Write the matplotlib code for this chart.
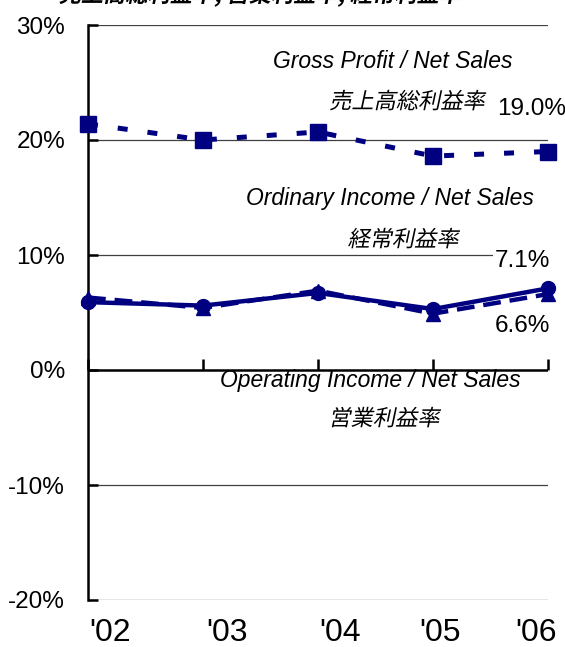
import matplotlib
matplotlib.use("Agg")
import matplotlib.pyplot as plt
from matplotlib.patheffects import AbstractPathEffect
from matplotlib.transforms import Affine2D, ScaledTranslation

plt.rcParams['font.family'] = ['Liberation Sans', 'Noto Sans CJK JP', 'DejaVu Sans']

years = ["'02", "'03", "'04", "'05", "'06"]
gross_profit = [21.4, 20.0, 20.7, 18.6, 19.0]
ordinary_income = [5.9, 5.6, 6.7, 5.3, 7.1]
operating_income = [6.3, 5.4, 6.9, 4.9, 6.6]
y_ticks = [-20, -10, 0, 10, 20, 30]
y_tick_labels = ["-20%", "-10%", "0%", "10%", "20%", "30%"]


class Slant(AbstractPathEffect):
    """Draw text paths with an oblique shear (faux italic for CJK)."""
    def __init__(self, deg=12):
        super().__init__()
        self.deg = deg

    def draw_path(self, renderer, gc, tpath, affine, rgbFace=None):
        renderer.draw_path(gc, tpath, Affine2D().skew_deg(self.deg, 0) + affine, rgbFace)


navy = "#000080"
W, H = 565, 647
fig = plt.figure(figsize=(W / 100, H / 100), dpi=100)
ax = fig.add_axes([88 / W, 1 - 600 / H, (548 - 88) / W, (600 - 25) / H])

x = list(range(len(years)))
ax.set_xlim(0, len(years) - 1)
ax.set_ylim(-20, 30)

# grid lines
for t in y_ticks:
    if t != 0:
        ax.axhline(t, color="#404040", lw=0.9, zorder=1)
ax.axhline(0, color="black", lw=1.8, zorder=2)
ax.plot(x, [0] * len(x), linestyle="none", marker=2, markersize=8,
        markeredgewidth=1.8, color="black", zorder=2, clip_on=False)

# series
ax.plot(x, gross_profit, color=navy, lw=3.6, linestyle=(0, (2, 4)),
        marker="s", markersize=11.5, zorder=5, clip_on=False)
ax.plot(x, operating_income, color=navy, lw=3.2, linestyle=(0, (4, 2)),
        marker="^", markersize=10, zorder=4, clip_on=False)
ax.plot(x, ordinary_income, color=navy, lw=3.2, linestyle="-",
        marker="o", markersize=10, zorder=6, clip_on=False)

# spines / ticks
for s in ["top", "right", "bottom"]:
    ax.spines[s].set_visible(False)
ax.spines["left"].set_linewidth(1.8)
ax.set_yticks(y_ticks)
ax.set_yticklabels(y_tick_labels, fontsize=17.5)
ax.tick_params(axis="y", direction="in", length=7, width=1.8, pad=16.5)
ax.set_xticks(x)
ax.set_xticklabels(years, fontsize=23)
ax.tick_params(axis="x", length=0, pad=13)
label_shift = [22, 24, 22, 7, -12]
for lab, dx in zip(ax.get_xticklabels(), label_shift):
    lab.set_transform(lab.get_transform() + ScaledTranslation(dx / 100, 0, fig.dpi_scale_trans))

# annotations
def px(xp, yp):
    return ((xp - 88) / 115.0, (370 - yp) / 11.5)

ital = dict(style="italic", fontsize=16.5, ha="center", va="center", zorder=3)
cjk = dict(fontsize=16, ha="center", va="center", zorder=3,
           family=["Noto Sans CJK JP", "DejaVu Sans"], path_effects=[Slant(12)])
val = dict(fontsize=17.5, ha="center", va="center", zorder=3,
           bbox=dict(facecolor="white", edgecolor="none", pad=1))

ax.text(*px(393, 61), "Gross Profit / Net Sales", **ital)
ax.text(*px(407, 102), "売上高総利益率", **cjk)
ax.text(*px(532, 109), "19.0%", clip_on=False, **val)
ax.text(*px(390, 199), "Ordinary Income / Net Sales", **ital)
ax.text(*px(403, 240), "経常利益率", **cjk)
ax.text(*px(522, 261), "7.1%", **val)
ax.text(*px(522, 326), "6.6%", **val)
ax.text(*px(370, 381), "Operating Income / Net Sales", **ital)
ax.text(*px(384, 419), "営業利益率", **cjk)

fig.text(260 / W, 1 - 2 / H, "売上高総利益率, 営業利益率, 経常利益率",
         fontsize=16, fontweight="bold", ha="center", va="baseline",
         family=["Noto Sans CJK JP", "DejaVu Sans"], path_effects=[Slant(12)])

fig.savefig("out.png", dpi=100)
